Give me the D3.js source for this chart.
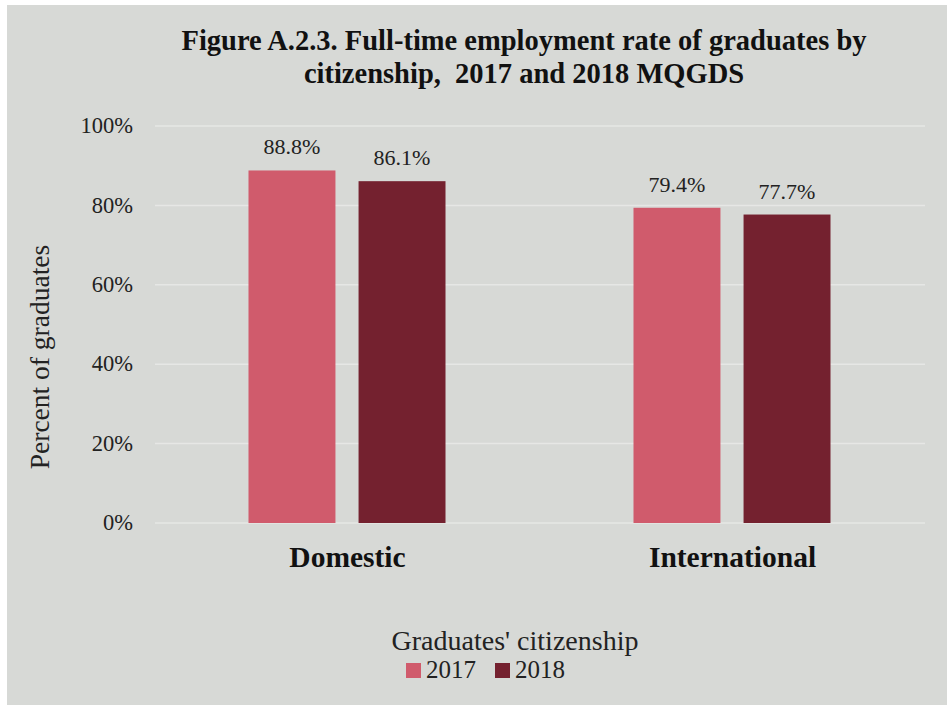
<!DOCTYPE html>
<html><head><meta charset="utf-8">
<script src="https://cdn.jsdelivr.net/npm/d3@7"></script>
<style>body{margin:0;background:#fff;}svg{display:block;} svg text{font-family:"Liberation Serif","Times New Roman","DejaVu Serif",serif;}</style>
</head><body>
<svg id="c" width="947" height="705"></svg>
<script>
const categories = ["Domestic", "International"];
const seriesNames = ["2017", "2018"];
const values2017 = [88.8, 79.4];
const values2018 = [86.1, 77.7];
const yTicks = [0, 20, 40, 60, 80, 100];
const colors = ["#d05b6c", "#74212f"];
const titleLines = ["Figure A.2.3. Full-time employment rate of graduates by", "citizenship,\u00a0\u00a02017 and 2018 MQGDS"];

const svg = d3.select("#c");
svg.append("rect").attr("x", 7).attr("y", 5).attr("width", 940).attr("height", 700).attr("fill", "#d7d9d6");

const m = {l: 155, r: 925, t: 126, b: 523};
const x0 = d3.scaleBand().domain(categories).range([m.l, m.r]).paddingInner(0).paddingOuter(0);
const x1 = d3.scaleBand().domain(seriesNames).range([0, 197]).paddingInner(0.21);
const y = d3.scaleLinear().domain([0, 100]).range([m.b, m.t]);

// gridlines
svg.append("g").selectAll("line").data(yTicks).join("line")
  .attr("x1", m.l).attr("x2", m.r)
  .attr("y1", d => y(d)).attr("y2", d => y(d))
  .attr("stroke", "#e6e7e5").attr("stroke-width", 1.5);

// y axis labels
const yAxis = d3.axisLeft(y).tickValues(yTicks).tickFormat(d => d + "%").tickSize(0).tickPadding(0);
const ya = svg.append("g").attr("transform", `translate(133,0)`).call(yAxis);
ya.select(".domain").remove();
ya.attr("font-family", null).attr("font-size", null);
ya.selectAll("text").attr("font-size", 22.5).attr("fill", "#222").attr("dy", "0.3em");

// bars
const data = categories.map((c, i) => ({cat: c, vals: [values2017[i], values2018[i]]}));
const groups = svg.append("g").selectAll("g").data(data).join("g")
  .attr("transform", d => `translate(${x0(d.cat) + x0.bandwidth() / 2 - 99},0)`);
groups.selectAll("rect").data(d => d.vals.map((v, j) => ({s: seriesNames[j], v, j}))).join("rect")
  .attr("x", d => x1(d.s)).attr("width", x1.bandwidth())
  .attr("y", d => y(d.v)).attr("height", d => y(0) - y(d.v))
  .attr("fill", d => colors[d.j]);
groups.selectAll("text").data(d => d.vals.map((v, j) => ({s: seriesNames[j], v, j}))).join("text")
  .attr("x", d => x1(d.s) + x1.bandwidth() / 2).attr("y", d => y(d.v) - 16)
  .attr("text-anchor", "middle").attr("font-size", 22).attr("fill", "#222")
  .text(d => d.v.toFixed(1) + "%");

// x axis labels
const xAxis = d3.axisBottom(x0).tickSize(0).tickPadding(0);
const xa = svg.append("g").attr("transform", `translate(0,${m.b + 44})`).call(xAxis);
xa.select(".domain").remove();
xa.attr("font-family", null).attr("font-size", null);
xa.selectAll("text").attr("font-size", 29.5).attr("font-weight", "bold").attr("fill", "#111").attr("dy", "0");

// title
svg.append("g").selectAll("text").data(titleLines).join("text")
  .attr("x", 524).attr("y", (d, i) => 50 + i * 33)
  .attr("text-anchor", "middle").attr("font-size", 28.5).attr("font-weight", "bold").attr("fill", "#111")
  .text(d => d);

// y axis title
svg.append("text").attr("transform", "translate(49,357) rotate(-90)")
  .attr("text-anchor", "middle").attr("font-size", 27.5).attr("fill", "#222")
  .text("Percent of graduates");

// legend
svg.append("text").attr("x", 515).attr("y", 650).attr("text-anchor", "middle")
  .attr("font-size", 28).attr("fill", "#222").text("Graduates' citizenship");
const legX = [406, 495];
const lg = svg.append("g").selectAll("g").data(seriesNames).join("g")
  .attr("transform", (d, i) => `translate(${legX[i]},663)`);
lg.append("rect").attr("width", 15).attr("height", 15).attr("fill", (d, i) => colors[i]);
lg.append("text").attr("x", 20).attr("y", 15).attr("font-size", 25).attr("fill", "#222").text(d => d);
</script>
</body></html>
